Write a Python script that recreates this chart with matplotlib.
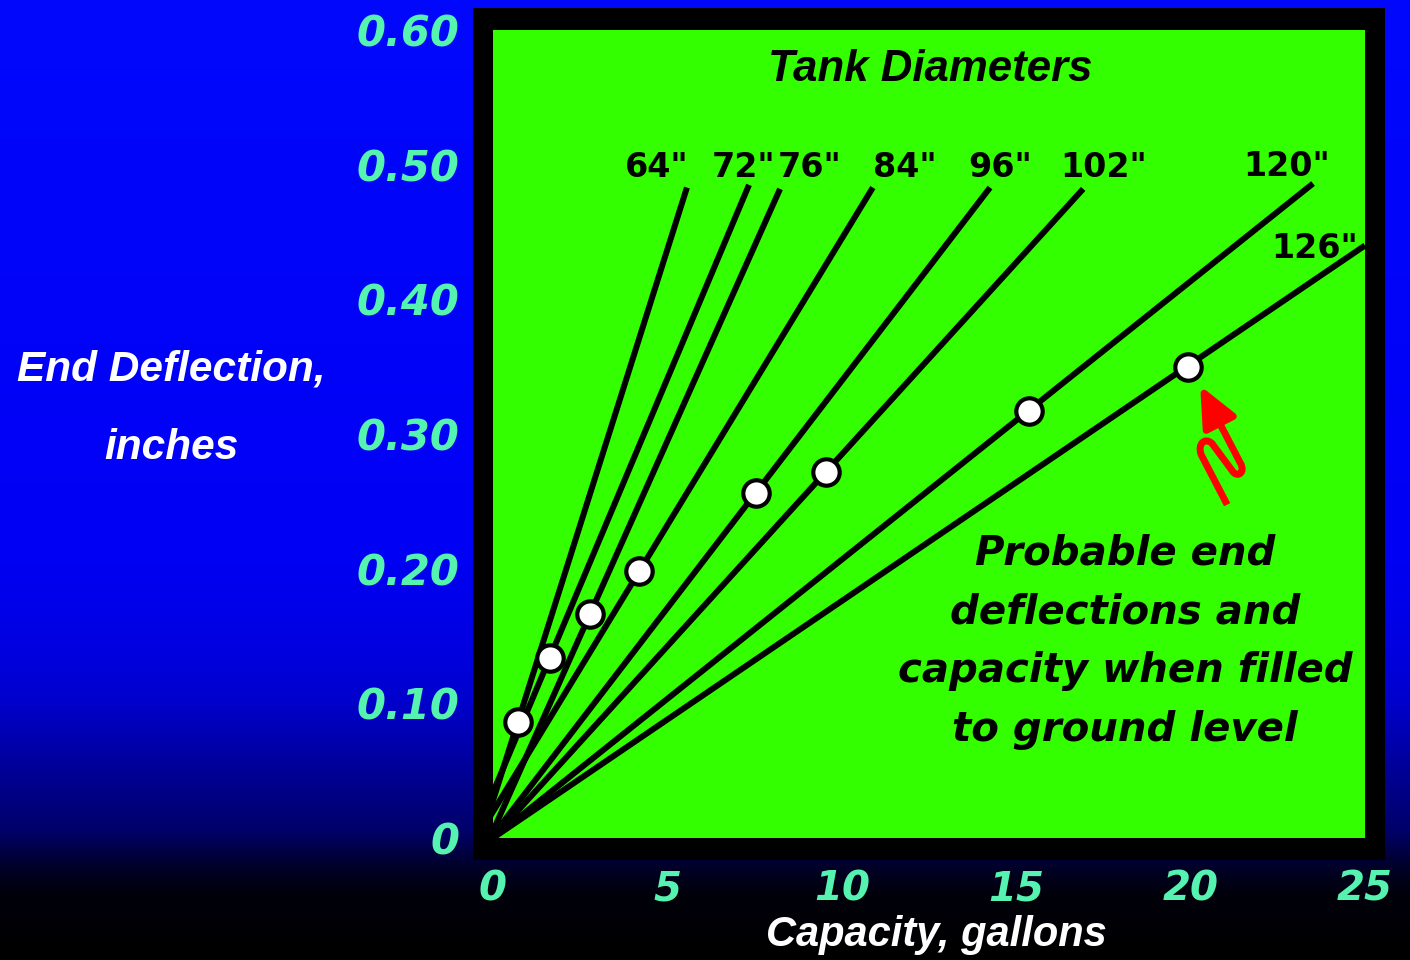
import numpy as np
import matplotlib
matplotlib.use("Agg")
import matplotlib.pyplot as plt
import matplotlib.transforms as mtransforms
from matplotlib.patches import Rectangle, FancyArrowPatch
from matplotlib.path import Path


# --------------------------------------------------
# 1. Data
# --------------------------------------------------
tank_labels = ['64"', '72"', '76"', '84"', '96"', '102"', '120"', '126"']

# each diameter line: start capacity at zero deflection, end point
line_x0 = [-0.34, -0.55, -0.09, -0.46, -0.06, 0.0, 0.0, 0.0]
line_x1 = [5.56, 7.34, 8.23, 10.89, 14.25, 16.92, 23.51, 25.0]
line_y1 = [0.483, 0.485, 0.482, 0.483, 0.483, 0.482, 0.486, 0.440]

# probable end deflection / capacity when filled to ground level
fill_capacity = [0.72, 1.63, 2.78, 4.19, 7.54, 9.55, 15.37, 19.93]
fill_deflection = [0.086, 0.134, 0.166, 0.198, 0.256, 0.272, 0.317, 0.350]

x_ticks = [0, 5, 10, 15, 20, 25]
y_ticks = [0, 0.1, 0.2, 0.3, 0.4, 0.5, 0.6]
y_tick_labels = ["0", "0.10", "0.20", "0.30", "0.40", "0.50", "0.60"]

# where the diameter labels sit (data coords)
label_pos = [(4.70, 0.498), (7.17, 0.498), (9.09, 0.498), (11.81, 0.498),
             (14.54, 0.498), (17.52, 0.498), (22.76, 0.499), (23.57, 0.438)]


# --------------------------------------------------
# 2. Colours / fonts
# --------------------------------------------------
GREEN = "#33ff00"
MINT = "#55f2b0"
BOLD_ITALIC = dict(family="Liberation Sans", weight="bold", style="italic")
WIDE_ITALIC = dict(family="DejaVu Sans", weight="bold", style="italic")

W, H, DPI = 1410, 960, 100
fig = plt.figure(figsize=(W / DPI, H / DPI), dpi=DPI)

# blue-to-black slide background
bg = fig.add_axes([0, 0, 1, 1], zorder=-10)
stops_y = [0, 550, 645, 700, 745, 790, 830, 850, 870, 895, 960]
stops_b = [252, 245, 225, 205, 170, 135, 105, 70, 35, 10, 0]
stops_g = [8, 0, 0, 0, 0, 0, 0, 0, 0, 0, 0]
yy = np.arange(H)
grad = np.zeros((H, 1, 3))
grad[:, 0, 1] = np.interp(yy, stops_y, stops_g) / 255
grad[:, 0, 2] = np.interp(yy, stops_y, stops_b) / 255
bg.imshow(grad, aspect="auto", extent=[0, 1, 0, 1])
bg.axis("off")

# black frame around the plot
fig.patches.append(Rectangle((473 / W, 1 - 860 / H), 912 / W, 852 / H,
                             transform=fig.transFigure, facecolor="black",
                             edgecolor="none", zorder=-5))

ax = fig.add_axes([493 / W, 1 - 838 / H, 872 / W, 808 / H])
ax.set_facecolor(GREEN)
for s in ax.spines.values():
    s.set_visible(False)
ax.set_xlim(0, 25)
ax.set_ylim(0, 0.6)


# --------------------------------------------------
# 3. Diameter lines and fill points
# --------------------------------------------------
for x0, x1, y1 in zip(line_x0, line_x1, line_y1):
    ax.plot([x0, x1], [0, y1], color="black", lw=4.3, solid_capstyle="butt")

for lab, (lx, ly) in zip(tank_labels, label_pos):
    ax.text(lx, ly, lab, ha="center", va="center", fontsize=24,
            family="DejaVu Sans", weight="bold", color="black")

ax.plot(fill_capacity, fill_deflection, "o", ms=19, mfc="white", mec="black",
        mew=3, zorder=5, clip_on=False)

ax.text(0.501, 0.951, "Tank Diameters", transform=ax.transAxes, ha="center",
        va="center", fontsize=31.5, color="black", **BOLD_ITALIC)

ax.text(0.725, 0.243, "Probable end\ndeflections and\ncapacity when filled\nto ground level",
        transform=ax.transAxes, ha="center", va="center", ma="center",
        fontsize=29, linespacing=1.6, color="black", **WIDE_ITALIC)

# squiggly red arrow pointing at the 126" point (offsets in pixels)
verts = [(39, -138), (13, -88),
         (9, -77), (17, -70), (24, -77),
         (44, -104),
         (49, -112), (58, -106), (52, -96),
         (12, -19)]
codes = [Path.MOVETO, Path.LINETO,
         Path.CURVE4, Path.CURVE4, Path.CURVE4,
         Path.LINETO,
         Path.CURVE4, Path.CURVE4, Path.CURVE4,
         Path.LINETO]
trans = (mtransforms.Affine2D().scale(1 / DPI) + fig.dpi_scale_trans
         + mtransforms.ScaledTranslation(fill_capacity[-1], fill_deflection[-1],
                                         ax.transData))
arrow = FancyArrowPatch(path=Path(verts, codes), transform=trans,
                        arrowstyle="-|>,head_length=2.45,head_width=1.1",
                        mutation_scale=10, color="#ff0000", lw=5,
                        joinstyle="round", capstyle="butt", zorder=6)
ax.add_patch(arrow)


# --------------------------------------------------
# 4. Axes text
# --------------------------------------------------
ax.set_xticks(x_ticks)
ax.set_xticklabels([str(v) for v in x_ticks])
ax.set_yticks(y_ticks)
ax.set_yticklabels(y_tick_labels)
ax.tick_params(axis="x", length=0, pad=23, labelcolor=MINT)
ax.tick_params(axis="y", length=0, pad=24, labelcolor=MINT)
for t in ax.get_xticklabels():
    t.set_fontproperties(dict(size=29, **WIDE_ITALIC))
for t in ax.get_yticklabels():
    t.set_fontproperties(dict(size=30, **WIDE_ITALIC))

fig.text(936 / W, 1 - 935 / H, "Capacity, gallons", ha="center", va="center",
         fontsize=30, color="white", **BOLD_ITALIC)
fig.text(171 / W, 1 - 409 / H, "End Deflection,\ninches", ha="center",
         va="center", ma="center", fontsize=30.5, linespacing=2.25,
         color="white", **BOLD_ITALIC)

fig.savefig("out.png", dpi=DPI)
